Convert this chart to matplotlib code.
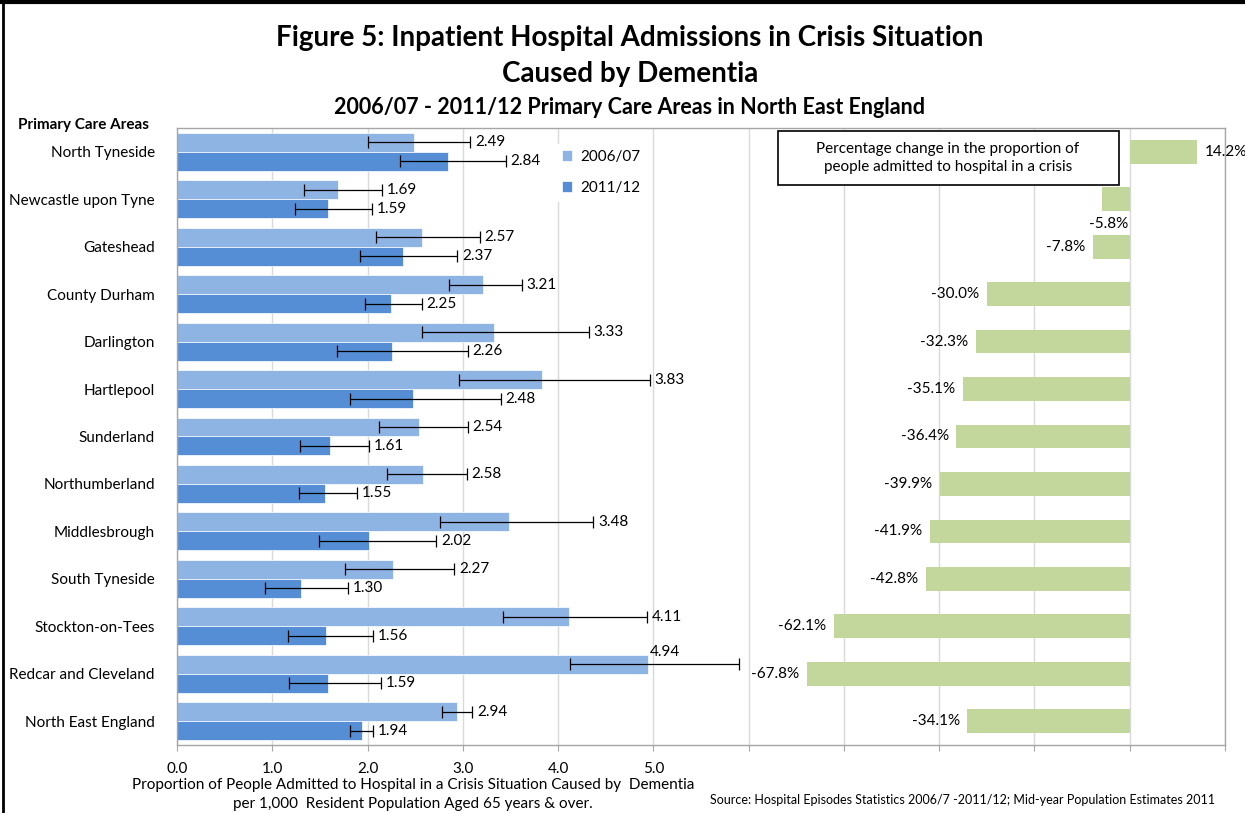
import matplotlib.pyplot as plt
from matplotlib.lines import Line2D
from matplotlib.patches import Rectangle
import numpy as np

plt.rcParams["font.family"] = ["Lato", "DejaVu Sans"]

areas = [
    "North Tyneside", "Newcastle upon Tyne", "Gateshead", "County Durham",
    "Darlington", "Hartlepool", "Sunderland", "Northumberland",
    "Middlesbrough", "South Tyneside", "Stockton-on-Tees",
    "Redcar and Cleveland", "North East England",
]
rate_0607 = [2.49, 1.69, 2.57, 3.21, 3.33, 3.83, 2.54, 2.58, 3.48, 2.27, 4.11, 4.94, 2.94]
rate_1112 = [2.84, 1.59, 2.37, 2.25, 2.26, 2.48, 1.61, 1.55, 2.02, 1.30, 1.56, 1.59, 1.94]
# 95% confidence limits
lo_0607 = [2.01, 1.33, 2.09, 2.86, 2.57, 2.96, 2.12, 2.20, 2.76, 1.76, 3.42, 4.13, 2.78]
hi_0607 = [3.08, 2.15, 3.18, 3.62, 4.32, 4.96, 3.05, 3.04, 4.37, 2.91, 4.93, 5.90, 3.10]
lo_1112 = [2.34, 1.24, 1.92, 1.97, 1.68, 1.82, 1.29, 1.28, 1.49, 0.92, 1.16, 1.18, 1.82]
hi_1112 = [3.45, 2.05, 2.94, 2.57, 3.05, 3.40, 2.02, 1.89, 2.72, 1.80, 2.06, 2.14, 2.06]
pct_change = [14.2, -5.8, -7.8, -30.0, -32.3, -35.1, -36.4, -39.9, -41.9, -42.8, -62.1, -67.8, -34.1]
x_ticks = [0.0, 1.0, 2.0, 3.0, 4.0, 5.0]

LIGHT = "#8EB4E3"
DARK = "#558ED5"
GREEN = "#C3D69B"
GRID = "#D9D9D9"

# percentage bars share the axis: base at x=10, 20% per unit
PCT_BASE = 10.0
PCT_SCALE = 20.0

W, H = 1245, 813
fig = plt.figure(figsize=(W / 100, H / 100), dpi=100)
ax = fig.add_axes([177 / W, (H - 745) / H, (1225 - 177) / W, (745 - 128) / H])

y = np.arange(len(areas))
r06 = np.array(rate_0607)
r11 = np.array(rate_1112)

ax.barh(y - 0.2, r06, height=0.4, color=LIGHT, edgecolor="white", linewidth=0.5,
        label="2006/07", zorder=2)
ax.barh(y + 0.2, r11, height=0.4, color=DARK, edgecolor="white", linewidth=0.5,
        label="2011/12", zorder=2)

err06 = [r06 - np.array(lo_0607), np.array(hi_0607) - r06]
err11 = [r11 - np.array(lo_1112), np.array(hi_1112) - r11]
ax.errorbar(r06, y - 0.2, xerr=err06, fmt="none", ecolor="black", elinewidth=0.9,
            capsize=4, capthick=0.9, zorder=3)
ax.errorbar(r11, y + 0.2, xerr=err11, fmt="none", ecolor="black", elinewidth=0.9,
            capsize=4, capthick=0.9, zorder=3)

for i in range(len(areas)):
    if areas[i] == "Redcar and Cleveland":
        ax.text(r06[i] + 0.02, i - 0.47, f"{r06[i]:.2f}", ha="left", va="center", fontsize=11)
    else:
        ax.text(hi_0607[i] + 0.05, i - 0.2, f"{r06[i]:.2f}", ha="left", va="center", fontsize=11)
    ax.text(hi_1112[i] + 0.05, i + 0.2, f"{r11[i]:.2f}", ha="left", va="center", fontsize=11)

pct = np.array(pct_change)
ax.barh(y, pct / PCT_SCALE, left=PCT_BASE, height=0.5, color=GREEN, zorder=2)
for i, p in enumerate(pct):
    end = PCT_BASE + p / PCT_SCALE
    if p >= 0:
        ax.text(end + 0.08, i, f"{p:.1f}%", ha="left", va="center", fontsize=11)
    elif areas[i] == "Newcastle upon Tyne":
        ax.text(PCT_BASE - 0.02, i + 0.52, f"{p:.1f}%", ha="right", va="center", fontsize=11)
    else:
        ax.text(end - 0.08, i, f"{p:.1f}%", ha="right", va="center", fontsize=11)

ax.set_xlim(0, 11)
ax.set_ylim(len(areas) - 0.5, -0.5)
ax.set_xticks(np.arange(0, 12))
ax.set_xticklabels([f"{v:.1f}" for v in x_ticks] + [""] * 6, fontsize=11)
ax.set_yticks(y)
ax.set_yticklabels(areas, fontsize=11)
ax.tick_params(axis="y", length=0, pad=16)
ax.tick_params(axis="x", length=4, color="#A6A6A6", pad=8)
ax.grid(axis="x", color=GRID, linewidth=1, zorder=0)
ax.set_axisbelow(True)
for s in ax.spines.values():
    s.set_color("#A6A6A6")
    s.set_linewidth(1)

leg = ax.legend(loc="upper left", bbox_to_anchor=(548 / W, 1 - 136 / H),
                bbox_transform=fig.transFigure, frameon=True, fancybox=False,
                edgecolor="white", framealpha=1, fontsize=11, handlelength=0.7,
                handleheight=0.7, handletextpad=0.5, labelspacing=1.1,
                borderpad=0.4)

# text box for the percentage panel
fig.add_artist(Rectangle((778 / W, 1 - 185 / H), (1119 - 778) / W, (185 - 131) / H,
                         transform=fig.transFigure, facecolor="white",
                         edgecolor="black", linewidth=1.2, zorder=5))
fig.text(948 / W, 1 - 158 / H,
         "Percentage change in the proportion of\npeople admitted to hospital in a crisis",
         ha="center", va="center", fontsize=11, linespacing=1.3, zorder=6)

fig.text(630 / W, 1 - 38 / H, "Figure 5: Inpatient Hospital Admissions in Crisis Situation",
         ha="center", va="center", fontsize=20, fontweight="bold")
fig.text(630 / W, 1 - 74 / H, "Caused by Dementia",
         ha="center", va="center", fontsize=20, fontweight="bold")
fig.text(630 / W, 1 - 107 / H, "2006/07 - 2011/12 Primary Care Areas in North East England",
         ha="center", va="center", fontsize=15.5, fontweight="bold")
fig.text(18 / W, 1 - 125 / H, "Primary Care Areas", ha="left", va="center",
         fontsize=11, fontweight="bold")

fig.text(413 / W, 1 - 785 / H,
         "Proportion of People Admitted to Hospital in a Crisis Situation Caused by  Dementia",
         ha="center", va="center", fontsize=11)
fig.text(413 / W, 1 - 804 / H, "per 1,000  Resident Population Aged 65 years & over.",
         ha="center", va="center", fontsize=11)
fig.text(1215 / W, 1 - 800 / H,
         "Source: Hospital Episodes Statistics 2006/7 -2011/12; Mid-year Population Estimates 2011",
         ha="right", va="center", fontsize=9)

# outer frame: thick top edge and left edge
fig.add_artist(Line2D([0, 1], [1 - 2 / H, 1 - 2 / H], transform=fig.transFigure,
                      color="black", linewidth=3))
fig.add_artist(Line2D([3 / W, 3 / W], [0, 1], transform=fig.transFigure,
                      color="black", linewidth=2))

fig.savefig("out.png", dpi=100)
